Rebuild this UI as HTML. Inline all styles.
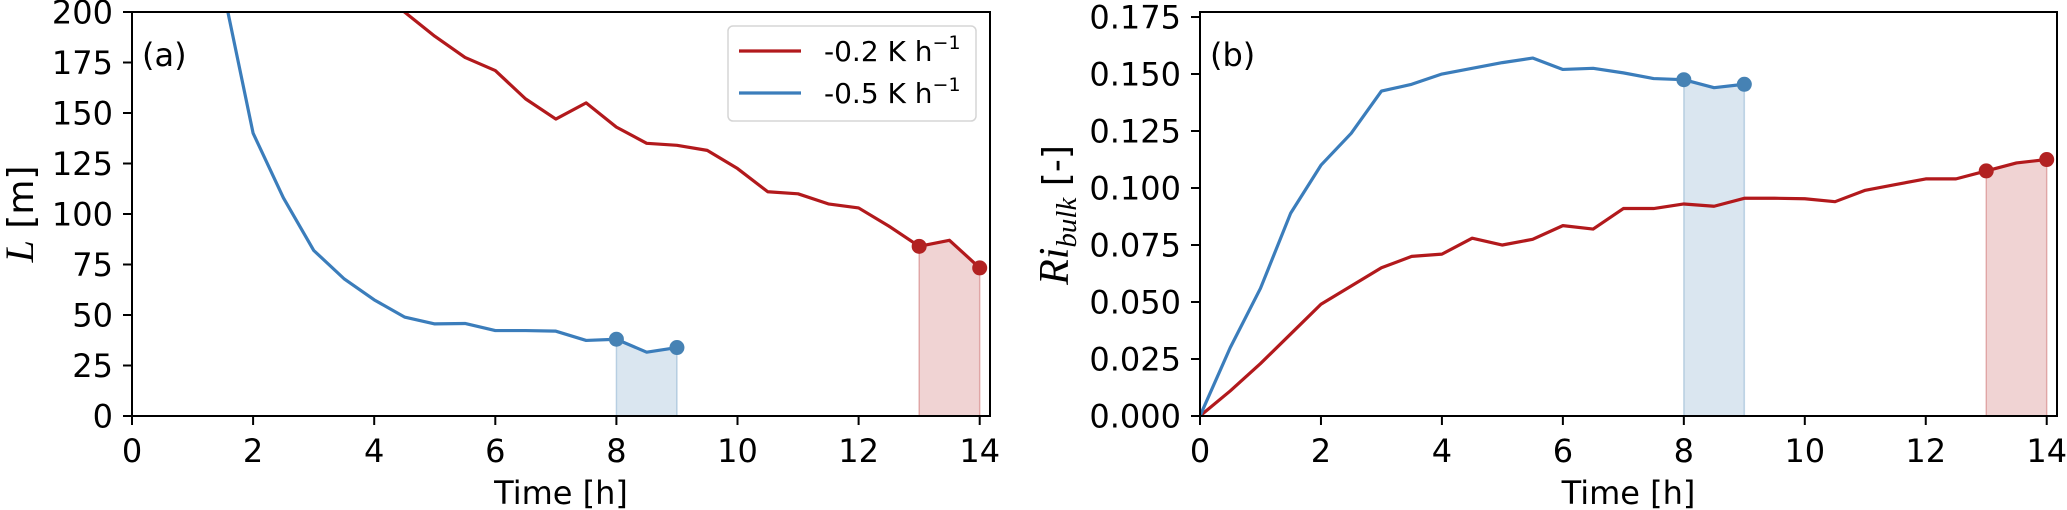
<!DOCTYPE html>
<html><head><meta charset="utf-8">
<style>
html,body{margin:0;padding:0;background:#fff;}
svg{display:block;font-family:"DejaVu Sans","Liberation Sans",sans-serif;}
</style></head>
<body>
<svg id="chart" width="2067" height="510" viewBox="0 0 2067 510" xmlns="http://www.w3.org/2000/svg"></svg>
<script>
const timesBlueL = [1.5,2,2.5,3,3.5,4,4.5,5,5.5,6,6.5,7,7.5,8,8.5,9];
const lengthBlue = [212,140,108,82,68,57.5,49,45.6,45.8,42.3,42.3,42,37.4,38,31.6,33.9];
const timesRedL = [4,4.5,5,5.5,6,6.5,7,7.5,8,8.5,9,9.5,10,10.5,11,11.5,12,12.5,13,13.5,14];
const lengthRed = [212,200,188,177.5,171,157,147,155,143,135,134,131.5,122.5,111,110,105,103,94,84,87,73.3];
const timesRi = [0,0.5,1,1.5,2,2.5,3,3.5,4,4.5,5,5.5,6,6.5,7,7.5,8,8.5,9,9.5,10,10.5,11,11.5,12,12.5,13,13.5,14];
const riBlue = [0,0.030,0.056,0.089,0.110,0.124,0.1425,0.1455,0.150,0.1525,0.155,0.157,0.152,0.1525,0.1505,0.148,0.1475,0.144,0.1455];
const riRed = [0,0.011,0.023,0.036,0.049,0.057,0.065,0.070,0.071,0.078,0.075,0.0775,0.0835,0.082,0.091,0.091,0.093,0.092,0.0955,0.0955,0.0953,0.094,0.099,0.1015,0.104,0.104,0.1075,0.111,0.1125];
const xTicks = [0,2,4,6,8,10,12,14];
const yTicksL = [0,25,50,75,100,125,150,175,200];
const yTicksR = [0,0.025,0.05,0.075,0.1,0.125,0.15,0.175];
const yTickLabelsR = ["0.000","0.025","0.050","0.075","0.100","0.125","0.150","0.175"];
const blueWindow = [8,9];
const redWindow = [13,14];

const NS="http://www.w3.org/2000/svg";
const svg=document.getElementById('chart');
const RED="#b2191c", BLUE="#3b7dbb", REDM="#b22222", BLUEM="#4682b4";
function mk(tag,attrs,parent){const e=document.createElementNS(NS,tag);for(const k in attrs)e.setAttribute(k,attrs[k]);(parent||svg).appendChild(e);return e;}

function panel(cfg){
  const g=mk('g',{});
  
  
  const L=cfg.left,R=cfg.right,T=12,B=416;
  const xs=t=>L+(t-0)/(cfg.xmax)*(R-L);
  const ys=v=>B-(v/cfg.ymax)*(B-T);
  const clipId='clip'+cfg.name;
  const cp=mk('clipPath',{id:clipId},g);mk('rect',{x:L,y:T,width:R-L,height:B-T},cp);
  const plot=mk('g',{'clip-path':'url(#'+clipId+')'},g);
  function shade(times,vals,win,fill,stroke,name){
    let pts=[];
    for(let i=0;i<times.length;i++){if(times[i]>=win[0]-1e-9&&times[i]<=win[1]+1e-9)pts.push([xs(times[i]),ys(vals[i])]);}
    let d='M'+xs(win[0])+','+ys(0)+' '+pts.map(p=>'L'+p[0]+','+p[1]).join(' ')+' L'+xs(win[1])+','+ys(0)+'Z';
    const p=mk('path',{d:d,fill:fill,stroke:stroke,'stroke-width':1.5},plot);
    
    
  }
  function line(times,vals,color,name){
    const n=Math.min(times.length,vals.length);
    let d='';for(let i=0;i<n;i++)d+=(i?'L':'M')+xs(times[i])+','+ys(vals[i])+' ';
    const p=mk('path',{d:d,fill:'none',stroke:color,'stroke-width':3.2,'stroke-linejoin':'round'},plot);
    
    
  }
  function dots(times,vals,win,color,name){
    for(let i=0;i<times.length;i++){
      if(Math.abs(times[i]-win[0])<1e-9||Math.abs(times[i]-win[1])<1e-9){
        const c=mk('circle',{cx:xs(times[i]),cy:ys(vals[i]),r:7.5,fill:color},g);
        
        
      }
    }
  }
  shade(cfg.bt,cfg.bv,blueWindow,'rgba(70,130,180,0.2)','rgba(70,130,180,0.3)','blue-window-shade');
  shade(cfg.rt,cfg.rv,redWindow,'rgba(178,34,34,0.2)','rgba(178,34,34,0.3)','red-window-shade');
  line(cfg.rt,cfg.rv,RED,'red-line');
  line(cfg.bt,cfg.bv,BLUE,'blue-line');
  dots(cfg.bt,cfg.bv,blueWindow,BLUEM,'blue-marker');
  dots(cfg.rt,cfg.rv,redWindow,REDM,'red-marker');
  const fr=mk('rect',{x:L,y:T,width:R-L,height:B-T,fill:'none',stroke:'#000','stroke-width':2},g);
  
  
  xTicks.forEach(t=>{
    const x=xs(t);
    mk('line',{x1:x,x2:x,y1:B,y2:B+9,stroke:'#000','stroke-width':2},g);
    const tx=mk('text',{x:x,y:462,'font-size':32,'text-anchor':'middle',fill:'#000'},g);
    tx.textContent=t;
    
    
  });
  cfg.yt.forEach((v,i)=>{
    const y=ys(v);
    mk('line',{x1:L-9,x2:L,y1:y,y2:y,stroke:'#000','stroke-width':2},g);
    const tx=mk('text',{x:L-19,y:y+11.5,'font-size':32,'text-anchor':'end',fill:'#000'},g);
    tx.textContent=cfg.yl[i];
    
    
  });
  const xl=mk('text',{x:(L+R)/2,y:504,'font-size':32,'text-anchor':'middle',fill:'#000'},g);
  xl.textContent='Time [h]';
  
  
  const pl=mk('text',{x:L+10,y:66,'font-size':32,fill:'#000'},g);
  pl.textContent=cfg.label;
  
  
  return g;
}
panel({name:'panel-a',left:132,right:990,xmax:14.17,ymax:200,bt:timesBlueL,bv:lengthBlue,rt:timesRedL,rv:lengthRed,yt:yTicksL,yl:yTicksL.map(String),label:'(a)'});
panel({name:'panel-b',left:1200,right:2057,xmax:14.17,ymax:0.1772,bt:timesRi,bv:riBlue,rt:timesRi,rv:riRed,yt:yTicksR,yl:yTickLabelsR,label:'(b)'});
</script>
<svg style="position:absolute;left:0;top:0" width="2067" height="510" xmlns="http://www.w3.org/2000/svg">
  <text x="0" y="0" transform="translate(33,214) rotate(-90)" font-size="36" text-anchor="middle" fill="#000"><tspan font-family="Liberation Serif, serif" font-style="italic" font-size="40">L</tspan><tspan font-family="DejaVu Sans, sans-serif"> [m]</tspan></text>
  <text x="0" y="0" transform="translate(1068,215) rotate(-90)" font-size="36" text-anchor="middle" fill="#000"><tspan font-family="Liberation Serif, serif" font-style="italic" font-size="42">Ri</tspan><tspan font-family="Liberation Serif, serif" font-style="italic" font-size="29" dy="8">bulk</tspan><tspan font-family="DejaVu Sans, sans-serif" dy="-8"> [-]</tspan></text>
  <g>
    <rect x="728" y="26" width="248" height="95" rx="5" fill="#fff" fill-opacity="0.8" stroke="#d5d5d5" stroke-width="1.5"/>
    <line x1="739" x2="801" y1="51" y2="51" stroke="#b2191c" stroke-width="3.2"/>
    <text x="824" y="61" font-size="28" font-family="DejaVu Sans, sans-serif" fill="#000">-0.2 K h<tspan font-size="19" dy="-12">−1</tspan></text>
    <line x1="739" x2="801" y1="93" y2="93" stroke="#3b7dbb" stroke-width="3.2"/>
    <text x="824" y="103" font-size="28" font-family="DejaVu Sans, sans-serif" fill="#000">-0.5 K h<tspan font-size="19" dy="-12">−1</tspan></text>
  </g>
</svg>
</body></html>
